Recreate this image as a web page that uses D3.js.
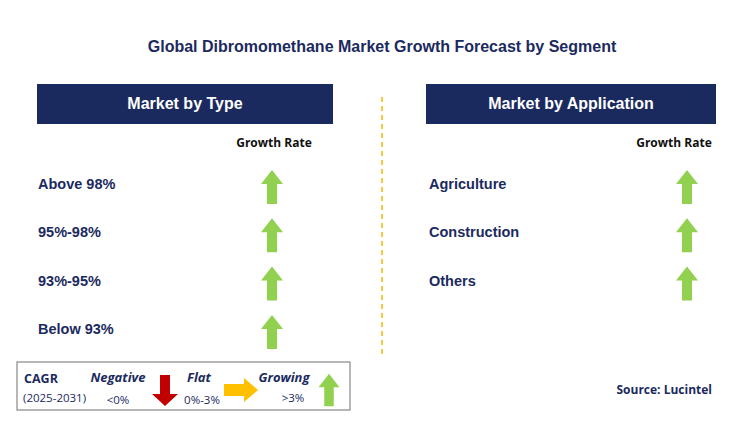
<!DOCTYPE html><html><head><meta charset="utf-8"><script src="https://cdn.jsdelivr.net/npm/d3@7"></script>
<style>body{margin:0;background:#fff}</style></head><body><script>
const typeCategories=["Above 98%","95%-98%","93%-95%","Below 93%"];
const typeGrowth=["growing","growing","growing","growing"];
const appCategories=["Agriculture","Construction","Others"];
const appGrowth=["growing","growing","growing"];
const W=741,H=423;
const svg=d3.select("body").append("svg").attr("width",W).attr("height",H);
svg.append("text").attr("x",382).attr("y",52).attr("text-anchor","middle").attr("font-family","Arial, 'Liberation Sans'").attr("font-weight","bold").attr("font-size",16).attr("fill","#1b2a5e").text("Global Dibromomethane Market Growth Forecast by Segment");
svg.append("line").attr("x1",382).attr("x2",382).attr("y1",97).attr("y2",356).attr("stroke","#f5b800").attr("stroke-width",1.5).attr("stroke-dasharray","5,4");
function up(g,cx,cy,s=1){
 const p=[[0,-17],[11,-3],[5,-3],[5,17],[-5,17],[-5,-3],[-11,-3]].map(([x,y])=>[cx+x*s,cy+y*s]);
 g.append("polygon").attr("points",p.join(" ")).attr("fill","#92d050");}
function panel(x0,w,title,cats,growth,labelX,arrowX,grX){
 svg.append("rect").attr("x",x0).attr("y",84).attr("width",w).attr("height",40).attr("fill","#1b2a5e");
 svg.append("text").attr("x",x0+w/2).attr("y",109).attr("text-anchor","middle").attr("font-family","Arial, 'Liberation Sans'").attr("font-weight","bold").attr("font-size",16).attr("fill","#fff").text(title);
 svg.append("text").attr("x",grX).attr("y",147).attr("text-anchor","middle").attr("font-family","'Open Sans', Arial").attr("font-weight","bold").attr("font-size",12).attr("fill","#111").text("Growth Rate");
 const y=d3.scalePoint().domain(cats).range([184,184+48.3*(cats.length-1)]);
 cats.forEach((c,i)=>{
  svg.append("text").attr("x",labelX).attr("y",y(c)+5).attr("font-family","Arial, 'Liberation Sans'").attr("font-weight","bold").attr("font-size",14.5).attr("fill","#1b2a5e").text(c);
  if(growth[i]==="growing") up(svg,arrowX,y(c)+3);
 });
}
panel(37,296,"Market by Type",typeCategories,typeGrowth,38,272,274);
panel(426,290,"Market by Application",appCategories,appGrowth,429,687,674);
svg.append("rect").attr("x",17).attr("y",362).attr("width",333).attr("height",48).attr("fill","#fff").attr("stroke","#888").attr("stroke-width",1.2);
const lf="'Open Sans', Arial", nc="#1b2a5e";
const T=(x,y,t,o={})=>svg.append("text").attr("x",x).attr("y",y).attr("font-family",lf).attr("font-size",o.s||11.5).attr("font-weight",o.b?"bold":"normal").attr("font-style",o.i?"italic":"normal").attr("text-anchor",o.a||"start").attr("fill",nc).text(t);
T(24,383,"CAGR",{b:1,s:12.5});T(23,402,"(2025-2031)",{s:11.5});
T(118,382,"Negative",{b:1,i:1,a:"middle",s:13});T(118,404,"<0%",{a:"middle"});
T(199,382,"Flat",{b:1,i:1,a:"middle",s:13});T(202,404,"0%-3%",{a:"middle"});
T(284,382,"Growing",{b:1,i:1,a:"middle",s:13});T(293,402,">3%",{a:"middle"});
svg.append("polygon").attr("points",[[160,375],[170,375],[170,394],[178,394],[165,406],[152,394],[160,394]].join(" ")).attr("fill","#c00000");
svg.append("polygon").attr("points",[[224,384],[244,384],[244,378],[258,390],[244,402],[244,396],[224,396]].join(" ")).attr("fill","#ffc000");
up(svg,329,390,0.95);
svg.append("text").attr("x",712).attr("y",394).attr("text-anchor","end").attr("font-family",lf).attr("font-weight","bold").attr("font-size",12).attr("fill","#1b2a5e").text("Source: Lucintel");
</script></body></html>
